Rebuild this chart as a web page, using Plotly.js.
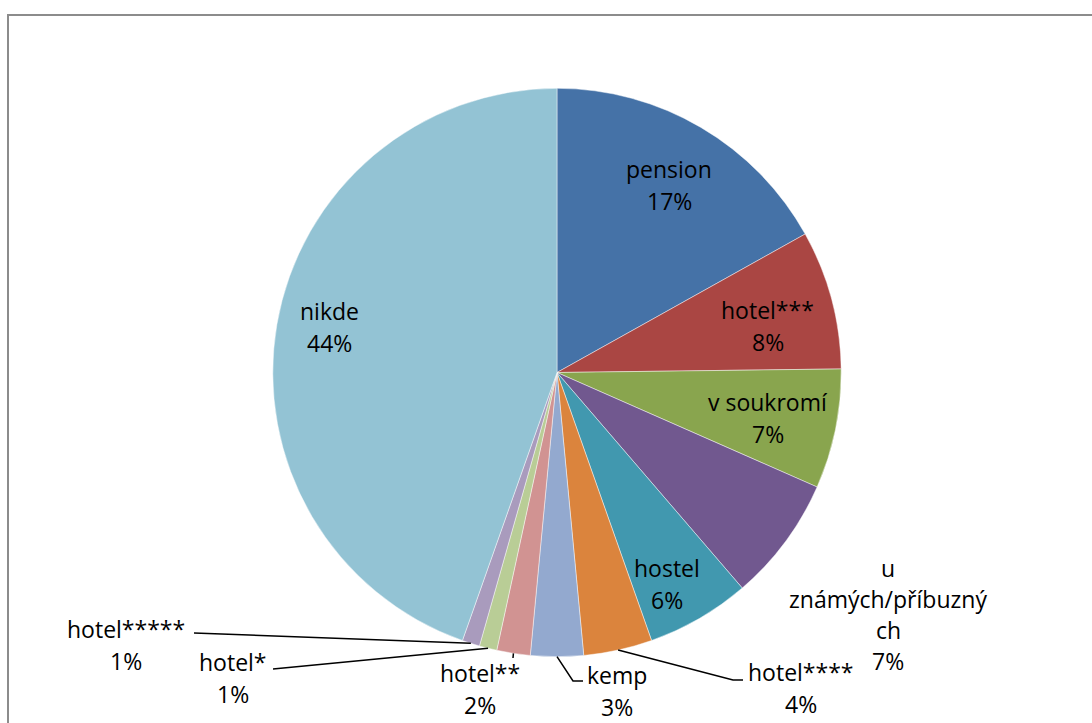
<!DOCTYPE html>
<html>
<head>
<meta charset="utf-8">
<script src="https://cdn.plot.ly/plotly-3.0.1.min.js"></script>
<style>
  html, body { margin: 0; padding: 0; background: #fff; }
  #pie { width: 1092px; height: 723px; }
</style>
</head>
<body>
<div id="pie"></div>
<script>
// data (shares in %, clockwise from 12 o'clock)
var labels = ['pension', 'hotel***', 'v soukromí', 'u známých/příbuzných', 'hostel',
              'hotel****', 'kemp', 'hotel**', 'hotel*', 'hotel*****', 'nikde'];
var values = [16.9, 7.9, 6.8, 7.1, 5.9, 3.9, 3.0, 1.9, 1.0, 1.0, 44.6];
var pctText = ['17%', '8%', '7%', '7%', '6%', '4%', '3%', '2%', '1%', '1%', '44%'];
var colors = ['#4572A7', '#AA4643', '#89A54E', '#71588F', '#4198AF',
              '#DB843D', '#93A9CF', '#D19392', '#B9CD96', '#A99BBD', '#93C3D4'];

// page geometry (pixels)
var W = 1092, H = 723;
var cx = 557, cy = 372.5, R = 284.2;

function px(x) { return x / W; }
function py(y) { return 1 - y / H; }

// middle angle of each slice (radians, clockwise from top)
var total = values.reduce(function (a, b) { return a + b; }, 0);
var mids = [], acc = 0;
values.forEach(function (v) {
  mids.push((acc + v / 2) / total * 2 * Math.PI);
  acc += v;
});
function edge(i, f, shiftDeg) {
  var a = mids[i] + (shiftDeg || 0) * Math.PI / 180;
  return [cx + f * R * Math.sin(a), cy - f * R * Math.cos(a)];
}

// label placement: inside -> [radius factor, angle shift in degrees]
var inside = {0: [0.77, 0.4], 1: [0.76, 2.5], 2: [0.76, 0.6], 4: [0.84, 2.6], 10: [0.815, 1.6]};
var outside = {
  3: {x: 888, y: 614, lines: ['u', 'známých/příbuzný', 'ch'], gap: 31},
  5: {x: 801, y: 688, lead: [[733, 680], [743, 680]]},
  6: {x: 617, y: 691, lead: [[573, 681], [583, 681]]},
  7: {x: 480, y: 689, lead: [[513, 658]]},
  8: {x: 233, y: 678, lead: [[273, 669]]},
  9: {x: 126, y: 645, lead: [[194, 633]]}
};

var font = {family: 'Open Sans, sans-serif', size: 23, color: '#000'};
var annotations = [];
var shapes = [];

function addText(x, y, t) {
  annotations.push({
    xref: 'paper', yref: 'paper', x: px(x), y: py(y),
    xanchor: 'center', yanchor: 'middle', showarrow: false,
    text: t, font: font
  });
}

labels.forEach(function (lab, i) {
  if (inside[i] !== undefined) {
    var p = edge(i, inside[i][0], inside[i][1]);
    addText(p[0], p[1] - 16, lab);
    addText(p[0], p[1] + 16, pctText[i]);
    return;
  }
  var o = outside[i];
  if (o.lines) {
    var rows = o.lines.concat([pctText[i]]);
    var top = o.y - (rows.length - 1) * o.gap / 2;
    rows.forEach(function (r, k) { addText(o.x, top + k * o.gap, r); });
  } else {
    addText(o.x, o.y - 16, lab);
    addText(o.x, o.y + 16, pctText[i]);
  }
  if (o.lead) {
    var s = edge(i, 1);
    var d = 'M' + px(s[0]) + ',' + py(s[1]);
    o.lead.forEach(function (q) { d += ' L' + px(q[0]) + ',' + py(q[1]); });
    shapes.push({type: 'path', xref: 'paper', yref: 'paper', path: d,
                 line: {color: '#000', width: 1.5}});
  }
});

// chart frame
shapes.push({type: 'rect', xref: 'paper', yref: 'paper',
             x0: px(8), x1: 1.1, y0: -0.1, y1: py(15),
             line: {color: '#8c8c8c', width: 2}});

var trace = {
  type: 'pie',
  labels: labels,
  values: values,
  sort: false,
  direction: 'clockwise',
  rotation: 0,
  textinfo: 'none',
  hoverinfo: 'label+percent',
  marker: {colors: colors, line: {color: 'rgba(255,255,255,0.6)', width: 0.75}},
  domain: {x: [px(cx - R), px(cx + R)], y: [py(cy + R), py(cy - R)]}
};

var layout = {
  width: W,
  height: H,
  margin: {l: 0, r: 0, t: 0, b: 0},
  showlegend: false,
  paper_bgcolor: '#fff',
  annotations: annotations,
  shapes: shapes
};

Plotly.newPlot('pie', [trace], layout, {displayModeBar: false});
</script>
</body>
</html>
